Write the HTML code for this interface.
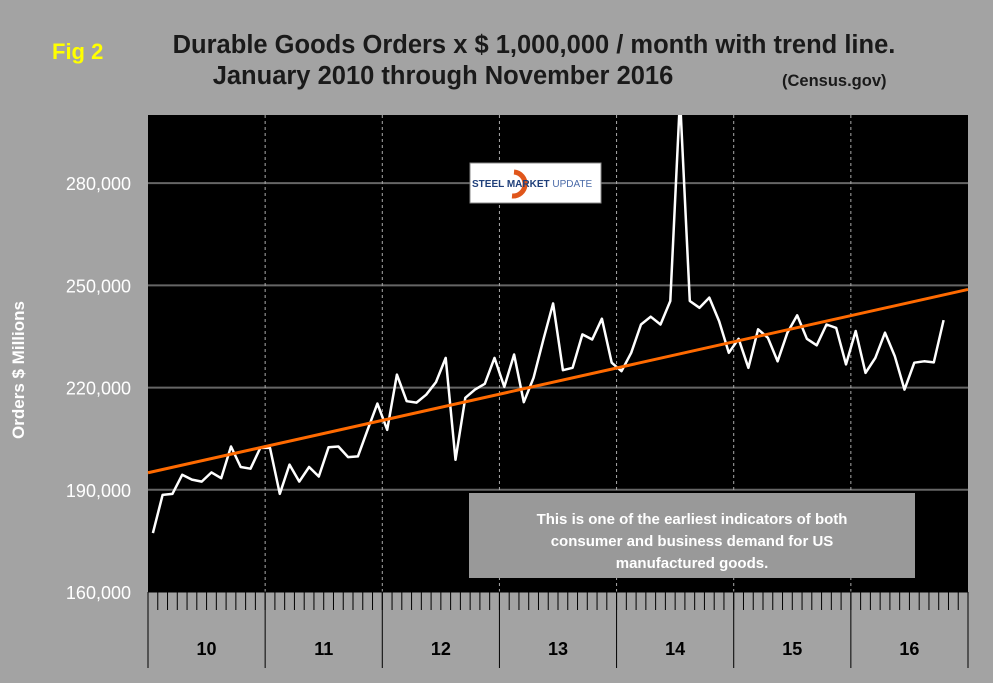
<!DOCTYPE html>
<html><head><meta charset="utf-8"><style>
body{margin:0;background:#a3a3a3;}
svg{display:block;font-family:"Liberation Sans",sans-serif;}
</style></head><body>
<svg id="chart" width="993" height="683" viewBox="0 0 993 683">
<rect x="0" y="0" width="993" height="683" fill="#a3a3a3"/>
<text x="52" y="59" font-size="22" font-weight="bold" fill="#ffff00">Fig 2</text>
<text x="534" y="53" text-anchor="middle" font-size="25.5" font-weight="bold" fill="#1a1a1a">Durable Goods Orders x $ 1,000,000 / month with trend line.</text>
<text x="443" y="84" text-anchor="middle" font-size="25.5" font-weight="bold" fill="#1a1a1a">January 2010 through November 2016</text>
<text x="782" y="86" font-size="16.5" font-weight="bold" fill="#1a1a1a">(Census.gov)</text>
<rect x="148" y="115" width="820" height="477" fill="#000"/>
<g id="grid"></g>
<g id="yticks"></g>
<g id="xaxis"></g>
<text transform="translate(24,370) rotate(-90)" text-anchor="middle" font-size="17" font-weight="bold" fill="#fff">Orders $ Millions</text>
<g id="series"></g>
<g>
<rect x="470" y="163" width="131" height="40" fill="#fff" stroke="#888"/>
<path d="M 514 172 A 12 12 0 1 1 512 196" fill="none" stroke="#e0561b" stroke-width="5"/>
<text x="472" y="187" font-size="10" font-weight="bold" fill="#1f3f7a">STEEL MARKET <tspan font-weight="normal" fill="#4a6aa8">UPDATE</tspan></text>
</g>
<rect x="469" y="493" width="446" height="85" fill="#999"/>
<text x="692" y="524" text-anchor="middle" font-size="15" font-weight="bold" fill="#fff">This is one of the earliest indicators of both</text>
<text x="692" y="546" text-anchor="middle" font-size="15" font-weight="bold" fill="#fff">consumer and business demand for US</text>
<text x="692" y="568" text-anchor="middle" font-size="15" font-weight="bold" fill="#fff">manufactured goods.</text>
</svg>
<script>
const yTicks=[160000,190000,220000,250000,280000];
const yearLabels=["10","11","12","13","14","15","16"];
const orders=[177.3,188.5,188.8,194.4,193,192.4,195.1,193.4,202.7,196.7,196.2,202.3,
202.3,188.8,197.4,192.4,196.7,193.9,202.5,202.7,199.6,199.8,207.6,215.3,
207.6,223.8,216,215.6,217.9,221.6,228.7,198.8,217,219.4,221.1,228.7,
220.2,229.7,215.7,222.9,234.1,244.7,225.1,225.8,235.6,234.1,240.2,227.3,
224.8,230.2,238.5,240.8,238.5,245.4,305,245.4,243.4,246.4,239.5,230.2,234.3,225.8,
237.1,234.6,227.7,236.1,241.2,234.3,232.4,238.5,237.5,226.8,236.6,224.3,
228.7,236.1,229.2,219.4,227.3,227.7,227.4,239.8];
const trendStart=195.0, trendEnd=248.8;
const NS="http://www.w3.org/2000/svg";
const X0=148,X1=968,YT=115,YB=592,YMIN=160000,YMAX=300000,MONTHS=84;
const sx=m=>X0+(X1-X0)*m/MONTHS;
const sy=v=>YB-(YB-YT)*(v-YMIN)/(YMAX-YMIN);
function mk(tag,attrs,parent){const e=document.createElementNS(NS,tag);for(const k in attrs)e.setAttribute(k,attrs[k]);parent.appendChild(e);return e;}
const grid=document.getElementById('grid'),yt=document.getElementById('yticks'),xa=document.getElementById('xaxis'),se=document.getElementById('series');
yTicks.forEach(v=>{
 if(v>YMIN){const l=mk('line',{x1:X0,x2:X1,y1:sy(v),y2:sy(v),stroke:'#666','stroke-width':2},grid);
 
 }
 const t=mk('text',{x:131,y:sy(v)+7,'text-anchor':'end','font-size':18,fill:'#fff'},yt);
 t.textContent=v.toLocaleString('en-US');
 
 
});
yearLabels.forEach((lab,i)=>{
 const xs=sx(i*12);
 if(i>0){const d=mk('line',{x1:xs,x2:xs,y1:YT,y2:YB,stroke:'#aaa','stroke-width':1,'stroke-dasharray':'3,3'},grid);
 
 }
 const s=mk('line',{x1:xs,x2:xs,y1:YB,y2:668,stroke:'#000','stroke-width':1},xa);
 
 
 const t=mk('text',{x:sx(i*12+6),y:655,'text-anchor':'middle','font-size':18,'font-weight':'bold',fill:'#000'},xa);
 t.textContent=lab;
 
 
});
const endSep=mk('line',{x1:X1,x2:X1,y1:YB,y2:668,stroke:'#000','stroke-width':1},xa);


for(let m=1;m<MONTHS;m++){const t=mk('line',{x1:sx(m),x2:sx(m),y1:YB,y2:610,stroke:'#000','stroke-width':1},xa);
 
 }
const ax=mk('line',{x1:X0,x2:X1,y1:YB,y2:YB,stroke:'#000','stroke-width':1},xa);


const cp=mk('clipPath',{id:'clip'},se);mk('rect',{x:X0,y:YT,width:X1-X0,height:YB-YT},cp);
const pts=orders.map((v,i)=>sx(i+0.5).toFixed(1)+','+sy(v*1000).toFixed(1)).join(' ');
const pl=mk('polyline',{points:pts,fill:'none',stroke:'#fff','stroke-width':2.5,'stroke-linejoin':'round','clip-path':'url(#clip)'},se);


const tl=mk('line',{x1:X0,y1:sy(trendStart*1000),x2:X1,y2:sy(trendEnd*1000),stroke:'#ff6a00','stroke-width':3},se);


</script>
</body></html>
